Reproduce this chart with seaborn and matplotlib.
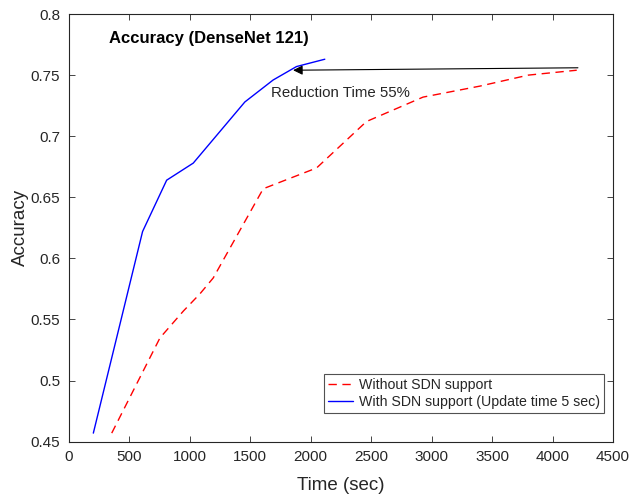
import matplotlib
matplotlib.use("Agg")
import matplotlib.pyplot as plt
import numpy as np
import pandas as pd
import seaborn as sns

# values
time_without = [357, 756, 950, 1086, 1196, 1609, 2050, 2462, 2930, 3400, 3800, 4200]
acc_without = [0.457, 0.535, 0.557, 0.571, 0.584, 0.657, 0.674, 0.712, 0.732, 0.741, 0.750, 0.754]

time_with = [205, 400, 612, 811, 1031, 1457, 1691, 1884, 2118]
acc_with = [0.457, 0.536, 0.622, 0.664, 0.678, 0.728, 0.746, 0.757, 0.763]

label_without = "Without SDN support"
label_with = "With SDN support (Update time 5 sec)"

x_ticks = np.arange(0, 4501, 500)
y_ticks = [0.45, 0.5, 0.55, 0.6, 0.65, 0.7, 0.75, 0.8]
y_tick_labels = ["0.45", "0.5", "0.55", "0.6", "0.65", "0.7", "0.75", "0.8"]

sns.set_theme(style="ticks")
plt.rcParams["font.family"] = ["Liberation Sans", "DejaVu Sans"]

df_without = pd.DataFrame({"time": time_without, "acc": acc_without})
df_with = pd.DataFrame({"time": time_with, "acc": acc_with})

fig = plt.figure(figsize=(6.31, 4.97), dpi=100)
ax = fig.add_axes([0.1086, 0.1113, 0.8629, 0.8605])

sns.lineplot(data=df_without, x="time", y="acc", ax=ax, color="#ff0000",
             linewidth=1.0, linestyle=(0, (6, 4)), label=label_without, sort=False)
sns.lineplot(data=df_with, x="time", y="acc", ax=ax, color="#0000ff",
             linewidth=1.0, label=label_with, sort=False)

ax.set_xlim(0, 4500)
ax.set_ylim(0.45, 0.8)
ax.set_xticks(x_ticks)
ax.set_yticks(y_ticks)
ax.set_yticklabels(y_tick_labels)

txt = "#262626"
ax.tick_params(direction="in", top=True, right=True, length=4, width=0.6,
               colors=txt, labelsize=11, pad=6)
for s in ax.spines.values():
    s.set_linewidth(0.8)
    s.set_color(txt)

ax.set_xlabel("Time (sec)", fontsize=13.5, color=txt, labelpad=9)
ax.set_ylabel("Accuracy", fontsize=13.5, color=txt, labelpad=1)

ax.text(337, 0.78, "Accuracy (DenseNet 121)", fontsize=12, fontweight="bold",
        color="black", va="center", ha="left")

ax.annotate("", xy=(1856, 0.754), xytext=(4210, 0.756),
            arrowprops=dict(arrowstyle="-|>", color="black", lw=0.8,
                            mutation_scale=14, shrinkA=0, shrinkB=0))
ax.text(1677, 0.735, "Reduction Time 55%", fontsize=10.8, color=txt,
        va="center", ha="left")

leg = ax.legend(loc="lower right", bbox_to_anchor=(0.9835, 0.0664), borderaxespad=0,
                fontsize=10.2, frameon=True, fancybox=False, edgecolor="#262626",
                handlelength=1.75, handletextpad=0.4, borderpad=0.3, labelspacing=0.2)
leg.get_frame().set_linewidth(0.8)
for t in leg.get_texts():
    t.set_color(txt)

fig.savefig("out.png", dpi=100)
